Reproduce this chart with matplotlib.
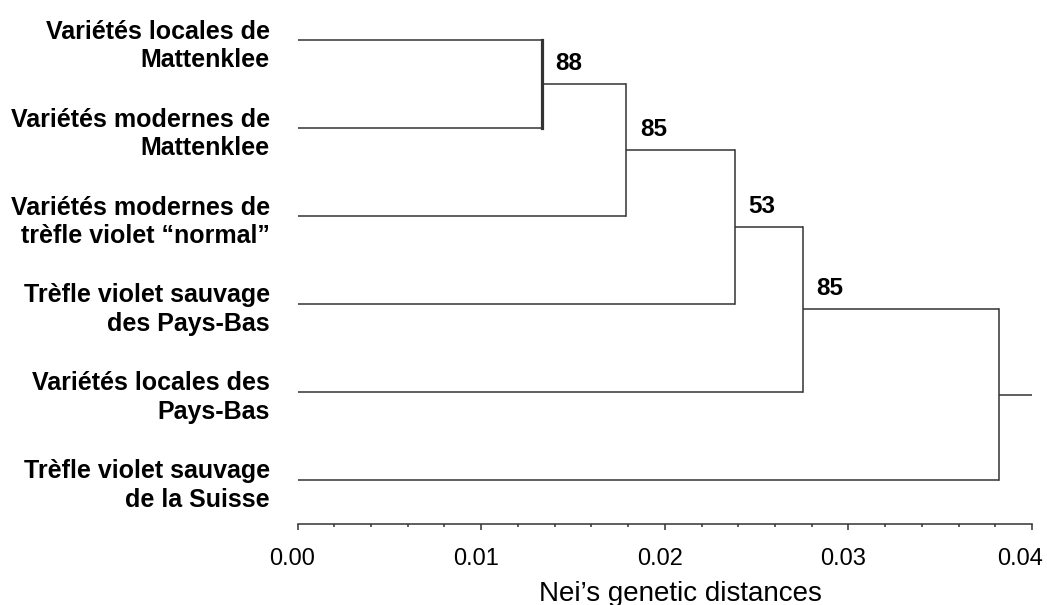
import matplotlib.pyplot as plt
from matplotlib.ticker import MultipleLocator
from matplotlib.transforms import ScaledTranslation

plt.rcParams['font.family'] = ['Liberation Sans', 'DejaVu Sans']

# leaves, top to bottom
leaf_labels = ['Variétés locales de\nMattenklee',
               'Variétés modernes de\nMattenklee',
               'Variétés modernes de\ntrèfle violet “normal”',
               'Trèfle violet sauvage\ndes Pays-Bas',
               'Variétés locales des\nPays-Bas',
               'Trèfle violet sauvage\nde la Suisse']

# joins in scipy style: leaves are 0..5, new clusters 6, 7, ...
merges = [(0, 1), (6, 2), (7, 3), (8, 4), (9, 5)]
merge_dist = [0.0133, 0.0179, 0.0238, 0.0275, 0.0382]
bootstrap = [88, 85, 53, 85, None]
root_dist = 0.04

xticks = [0, 0.01, 0.02, 0.03, 0.04]
xtick_labels = ['0.00', '0.01', '0.02', '0.03', '0.04']

line_col = '#333333'

fig = plt.figure(figsize=(10.47, 6.05), dpi=100)
ax = fig.add_axes([0.2842, 0.1339, 0.7015, 0.8436])

# position (x, y) of every node
pos = {i: (0.0, float(i)) for i in range(len(leaf_labels))}
for k, (a, b) in enumerate(merges):
    d = merge_dist[k]
    xa, ya = pos[a]
    xb, yb = pos[b]
    ax.plot([xa, d], [ya, ya], color=line_col, lw=1.1, solid_capstyle='butt')
    ax.plot([xb, d], [yb, yb], color=line_col, lw=1.1, solid_capstyle='butt')
    # the first join is drawn with a heavier stroke in the original
    ax.plot([d, d], [ya, yb], color=line_col, lw=2.3 if k == 0 else 1.1,
            solid_capstyle='projecting')
    node_y = (ya + yb) / 2
    pos[len(leaf_labels) + k] = (d, node_y)
    if bootstrap[k] is not None:
        ax.annotate(str(bootstrap[k]), xy=(d, node_y), xytext=(10, 15),
                    textcoords='offset points', ha='left', va='center',
                    fontsize=17.5, fontweight='bold', color='black')

# stub on the root
rx, ry = pos[len(leaf_labels) + len(merges) - 1]
ax.plot([rx, root_dist], [ry, ry], color=line_col, lw=1.1, solid_capstyle='butt')

ax.set_xlim(0, 0.04)
ax.set_ylim(5.5, -0.3)

ax.set_yticks(range(len(leaf_labels)))
ax.set_yticklabels(leaf_labels, fontsize=18, fontweight='bold', ha='right',
                   multialignment='right', linespacing=1.25)
ax.tick_params(axis='y', length=0, pad=20)
for lab in ax.get_yticklabels():
    lab.set_transform(lab.get_transform() + ScaledTranslation(0, -1 / 100, fig.dpi_scale_trans))

ax.xaxis.set_minor_locator(MultipleLocator(0.002))
ax.set_xticks(xticks)
ax.set_xticklabels(xtick_labels)
ax.tick_params(axis='x', which='major', length=4, width=1.1, color=line_col,
               labelsize=17, pad=13.5)
ax.tick_params(axis='x', which='minor', length=1.8, width=1.1, color=line_col)
# labels sit a little left of their ticks, the last one more so to fit
for i, lab in enumerate(ax.get_xticklabels()):
    dx = -12 if i == len(xticks) - 1 else -5
    lab.set_transform(lab.get_transform() + ScaledTranslation(dx / 100, 0, fig.dpi_scale_trans))

for side in ['top', 'right', 'left']:
    ax.spines[side].set_visible(False)
ax.spines['bottom'].set_color(line_col)
ax.spines['bottom'].set_linewidth(1.1)

fig.text(0.6495, 1 - 601 / 605, 'Nei’s genetic distances', ha='center',
         va='baseline', fontsize=20)

fig.savefig('out.png', dpi=100)
